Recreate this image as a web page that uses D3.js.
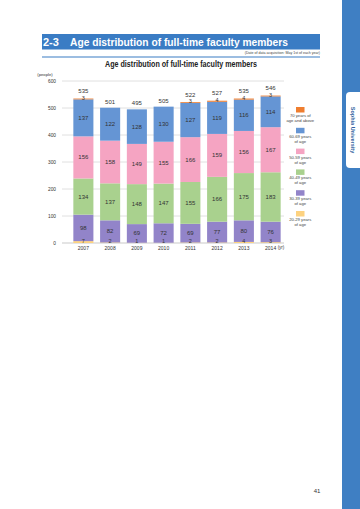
<!DOCTYPE html>
<html><head><meta charset="utf-8">
<script src="https://cdn.jsdelivr.net/npm/d3@7"></script>
<style>body{margin:0;background:#fff}svg{display:block}text{font-family:"Liberation Sans",Arial,sans-serif}</style>
</head><body><svg id="c" width="360" height="509"></svg>
<script>
const years = ["2007","2008","2009","2010","2011","2012","2013","2014"];
const ageGroups = ["20-29","30-39","40-49","50-59","60-69","70+"];
const age20s = [7,2,1,1,2,2,4,3];
const age30s = [98,82,69,72,69,77,80,76];
const age40s = [134,137,148,147,155,166,175,183];
const age50s = [156,158,149,155,166,159,156,167];
const age60s = [137,122,128,130,127,119,116,114];
const age70p = [3,0,0,0,3,4,4,3];
const totals = [535,501,495,505,522,527,535,546];
const yTicks = [0,100,200,300,400,500,600];
const legendLabels = [["70 years of","age and above"],["60-69 years","of age"],["50-59 years","of age"],["40-49 years","of age"],["30-39 years","of age"],["20-29 years","of age"]];
const colors = {"20-29":"#fdd27f","30-39":"#9284c9","40-49":"#a9d18e","50-59":"#f5a4c2","60-69":"#6595d4","70+":"#ef7e2f"};

const svg = d3.select("#c");
// page decorations
svg.append("rect").attr("x",342).attr("y",0).attr("width",18).attr("height",509).attr("fill","#3f7fc3");
svg.append("path").attr("d","M360,92 L350,92 Q346,92 346,96 L346,164 Q346,168 350,168 L360,168 Z").attr("fill","#fff");
svg.append("text").attr("transform","translate(350.5,130) rotate(90)").attr("text-anchor","middle")
  .attr("font-size",5.5).attr("font-weight","bold").attr("fill","#2f5f9e").text("Sophia University");
svg.append("rect").attr("x",42).attr("y",34).attr("width",278).attr("height",15.5).attr("fill","#3a7cc4");
svg.append("text").attr("x",43).attr("y",45.5).attr("font-size",11).attr("font-weight","bold").attr("fill","#fff").text("2-3");
svg.append("text").attr("x",70).attr("y",45.5).attr("font-size",11).attr("font-weight","bold").attr("fill","#fff")
  .attr("textLength",218).attr("lengthAdjust","spacingAndGlyphs").text("Age distribution of full-time faculty members");
svg.append("text").attr("x",320).attr("y",54).attr("text-anchor","end").attr("font-size",3.6).attr("fill","#444")
  .text("(Date of data acquisition: May 1st of each year)");
svg.append("rect").attr("x",42).attr("y",56.5).attr("width",278).attr("height",1).attr("fill","#3a7cc4");
svg.append("text").attr("x",181).attr("y",67).attr("text-anchor","middle").attr("font-size",9.5).attr("font-weight","bold").attr("fill","#222")
  .attr("textLength",152).attr("lengthAdjust","spacingAndGlyphs").text("Age distribution of full-time faculty members");
svg.append("text").attr("x",317).attr("y",493).attr("text-anchor","middle").attr("font-size",6).attr("fill","#333").text("41");

// scales
const x = d3.scaleBand().domain(years).range([70,284]).paddingInner(0.25).paddingOuter(0.125);
const y = d3.scaleLinear().domain([0,600]).range([243,81]);

// grid
svg.append("g").selectAll("line").data(yTicks.filter(d=>d>0)).join("line")
  .attr("x1",62).attr("x2",284).attr("y1",d=>y(d)).attr("y2",d=>y(d)).attr("stroke","#d8d8d8").attr("stroke-width",0.8);
const yAxis = svg.append("g").attr("transform","translate(62,0)").call(d3.axisLeft(y).tickValues(yTicks).tickSize(0).tickPadding(6));
yAxis.select(".domain").remove();
yAxis.selectAll("text").attr("font-size",4.8).attr("fill","#333");
svg.append("text").attr("x",45).attr("y",76).attr("text-anchor","middle").attr("font-size",4.2).attr("fill","#333").text("(people)");
svg.append("line").attr("x1",62).attr("x2",284).attr("y1",y(0)).attr("y2",y(0)).attr("stroke","#bbb").attr("stroke-width",0.8);
const xAxis = svg.append("g").attr("transform",`translate(0,${y(0)})`).call(d3.axisBottom(x).tickSize(0).tickPadding(3));
xAxis.select(".domain").remove();
xAxis.selectAll("text").attr("font-size",5).attr("fill","#333");
svg.append("text").attr("x",281).attr("y",249).attr("text-anchor","middle").attr("font-size",4.5).attr("fill","#333").text("(yr)");

// stacked data
const rows = years.map((yr,i)=>({year:yr,"20-29":age20s[i],"30-39":age30s[i],"40-49":age40s[i],"50-59":age50s[i],"60-69":age60s[i],"70+":age70p[i],total:totals[i]}));
const series = d3.stack().keys(ageGroups)(rows);
const g = svg.append("g");
series.forEach(s=>{
  g.append("g").selectAll("rect").data(s).join("rect")
    .attr("x",d=>x(d.data.year)).attr("width",x.bandwidth())
    .attr("y",d=>y(d[1])).attr("height",d=>y(d[0])-y(d[1]))
    .attr("fill",colors[s.key]);
});
// segment labels (middle groups)
series.forEach(s=>{
  if(s.key==="20-29"||s.key==="70+") return;
  g.append("g").selectAll("text").data(s).join("text")
    .attr("x",d=>x(d.data.year)+x.bandwidth()/2).attr("y",d=>(y(d[0])+y(d[1]))/2+2)
    .attr("text-anchor","middle").attr("font-size",6).attr("fill","#333").text(d=>d[1]-d[0]);
});
// 20-29 labels at bottom
g.append("g").selectAll("text").data(series[0]).join("text")
  .attr("x",d=>x(d.data.year)+x.bandwidth()/2).attr("y",y(0)-0.3)
  .attr("text-anchor","middle").attr("font-size",5.5).attr("fill","#333").text(d=>d[1]-d[0]);
// 70+ labels above top
const topSeries = series[5];
g.append("g").selectAll("text").data(topSeries.filter(d=>d[1]-d[0]>0)).join("text")
  .attr("x",d=>x(d.data.year)+x.bandwidth()/2).attr("y",d=>y(d[1])+1.2)
  .attr("text-anchor","middle").attr("font-size",5.5).attr("fill","#333").text(d=>d[1]-d[0]);
// totals
g.append("g").selectAll("text").data(rows).join("text")
  .attr("x",d=>x(d.year)+x.bandwidth()/2).attr("y",d=>y(d.total)-(d["70+"]>0?5.5:4))
  .attr("text-anchor","middle").attr("font-size",6).attr("fill","#333").text(d=>d.total);

// legend
const legKeys = ["70+","60-69","50-59","40-49","30-39","20-29"];
const lg = svg.append("g");
legKeys.forEach((k,i)=>{
  const ly = 107 + i*20.8;
  lg.append("rect").attr("x",296).attr("y",ly).attr("width",8.5).attr("height",5.5).attr("fill",colors[k]);
  legendLabels[i].forEach((t,j)=>{
    lg.append("text").attr("x",300.3).attr("y",ly+10+j*5).attr("text-anchor","middle").attr("font-size",4.2).attr("fill","#444").text(t);
  });
});
</script></body></html>
